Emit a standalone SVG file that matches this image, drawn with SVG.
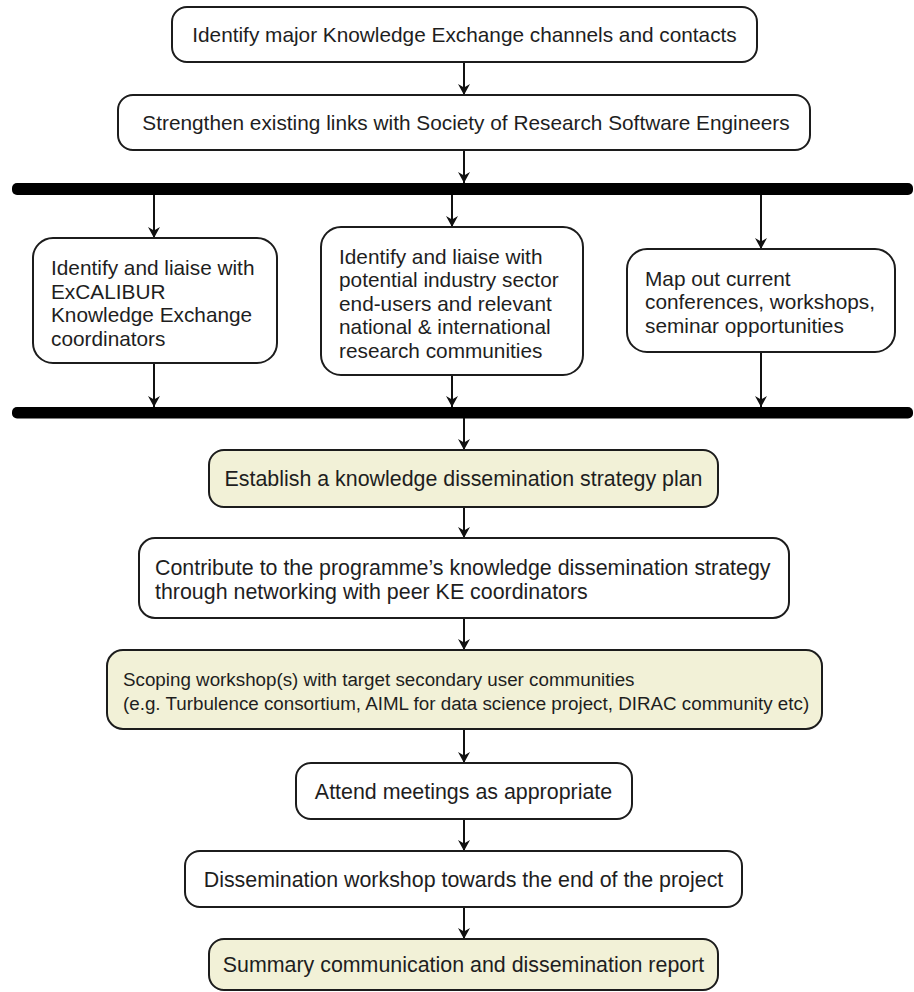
<svg xmlns="http://www.w3.org/2000/svg" width="914" height="992" viewBox="0 0 914 992">
  <defs>
    <marker id="arrow" viewBox="-12 -7 14 14" refX="0" refY="0" markerWidth="14" markerHeight="14" markerUnits="userSpaceOnUse" orient="auto">
      <path d="M0,0 L-11,-6 L-7.5,0 L-11,6 Z" fill="#111"/>
    </marker>
    <style>
      .box { fill: #ffffff; stroke: #1c1c1c; stroke-width: 2; }
      .hl { fill: #f2f1d7; }
      .bar { fill: #000000; }
      .edge { stroke: #111; stroke-width: 2; fill: none; marker-end: url(#arrow); }
      text { font-family: "Liberation Sans", Arial, Helvetica, sans-serif; font-size: 20.8px; fill: #1e1e1e; }
      .lg { font-size: 21.4px; }
      .sm { font-size: 18.8px; }
      .c { text-anchor: middle; }
    </style>
  </defs>

  <rect width="914" height="992" fill="#ffffff"/>

  <!-- synchronisation bars -->
  <g id="fork-bar">
    <rect class="bar" x="12" y="183" width="901" height="12" rx="5"/>
  </g>
  <g id="join-bar">
    <rect class="bar" x="12" y="407" width="901" height="11.5" rx="5"/>
  </g>

  <!-- connectors -->
  <g id="edges">
    <line class="edge" x1="464" y1="62" x2="464" y2="95"/>
    <line class="edge" x1="464" y1="150" x2="464" y2="183"/>
    <line class="edge" x1="154" y1="195" x2="154" y2="238"/>
    <line class="edge" x1="452" y1="195" x2="452" y2="227"/>
    <line class="edge" x1="761" y1="195" x2="761" y2="249"/>
    <line class="edge" x1="154" y1="363" x2="154" y2="407"/>
    <line class="edge" x1="452" y1="375" x2="452" y2="407"/>
    <line class="edge" x1="761" y1="352" x2="761" y2="407"/>
    <line class="edge" x1="464" y1="418" x2="464" y2="450"/>
    <line class="edge" x1="464" y1="507" x2="464" y2="538"/>
    <line class="edge" x1="464" y1="618" x2="464" y2="650"/>
    <line class="edge" x1="464" y1="729" x2="464" y2="763"/>
    <line class="edge" x1="464" y1="819" x2="464" y2="851"/>
    <line class="edge" x1="464" y1="907" x2="464" y2="939"/>
  </g>

  <!-- activities -->
  <g id="identify-channels">
    <rect class="box" x="172" y="7" width="585" height="55" rx="15"/>
    <text class="c" x="464.5" y="41.5">Identify major Knowledge Exchange channels and contacts</text>
  </g>

  <g id="strengthen-links">
    <rect class="box" x="118" y="95" width="692" height="55" rx="15"/>
    <text class="c" x="466" y="129.5">Strengthen existing links with Society of Research Software Engineers</text>
  </g>

  <g id="liaise-excalibur">
    <rect class="box" x="33" y="238" width="244" height="125" rx="20"/>
    <text x="51">
      <tspan x="51" y="275">Identify and liaise with</tspan>
      <tspan x="51" y="298.5">ExCALIBUR</tspan>
      <tspan x="51" y="322">Knowledge Exchange</tspan>
      <tspan x="51" y="345.5">coordinators</tspan>
    </text>
  </g>

  <g id="liaise-industry">
    <rect class="box" x="321" y="227" width="262" height="148" rx="20"/>
    <text x="339">
      <tspan x="339" y="263.5">Identify and liaise with</tspan>
      <tspan x="339" y="287">potential industry sector</tspan>
      <tspan x="339" y="310.5">end-users and relevant</tspan>
      <tspan x="339" y="334">national &amp; international</tspan>
      <tspan x="339" y="357.5">research communities</tspan>
    </text>
  </g>

  <g id="map-conferences">
    <rect class="box" x="627" y="249" width="268" height="103" rx="20"/>
    <text x="645">
      <tspan x="645" y="285.5">Map out current</tspan>
      <tspan x="645" y="309">conferences, workshops,</tspan>
      <tspan x="645" y="332.5">seminar opportunities</tspan>
    </text>
  </g>

  <g id="strategy-plan">
    <rect class="box hl" x="209" y="450" width="509" height="57" rx="15"/>
    <text class="c lg" x="463.5" y="486">Establish a knowledge dissemination strategy plan</text>
  </g>

  <g id="contribute-strategy">
    <rect class="box" x="139" y="538" width="650" height="80" rx="16"/>
    <text class="lg" x="155">
      <tspan x="155" y="575">Contribute to the programme’s knowledge dissemination strategy</tspan>
      <tspan x="155" y="599">through networking with peer KE coordinators</tspan>
    </text>
  </g>

  <g id="scoping-workshops">
    <rect class="box hl" x="107" y="650" width="715" height="79" rx="16"/>
    <text class="sm" x="123">
      <tspan x="123" y="685.5">Scoping workshop(s) with target secondary user communities</tspan>
      <tspan x="123" y="709.5">(e.g. Turbulence consortium, AIML for data science project, DIRAC community etc)</tspan>
    </text>
  </g>

  <g id="attend-meetings">
    <rect class="box" x="296" y="763" width="336" height="56" rx="15"/>
    <text class="c lg" x="463.5" y="798.5">Attend meetings as appropriate</text>
  </g>

  <g id="dissemination-workshop">
    <rect class="box" x="185" y="851" width="557" height="56" rx="15"/>
    <text class="c lg" x="463.5" y="886.5">Dissemination workshop towards the end of the project</text>
  </g>

  <g id="summary-report">
    <rect class="box hl" x="209" y="939" width="509" height="51" rx="15"/>
    <text class="c lg" x="463.5" y="972">Summary communication and dissemination report</text>
  </g>
</svg>
